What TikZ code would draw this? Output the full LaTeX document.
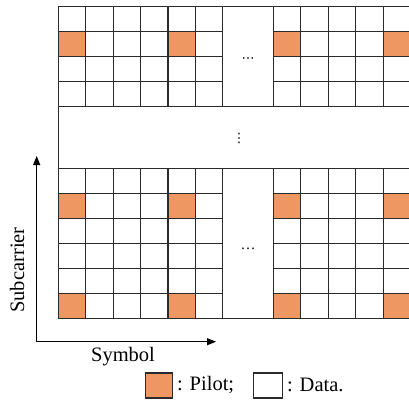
\documentclass[tikz,border=0pt]{standalone}
\usepackage{fontspec}
\setmainfont{Liberation Serif}
\newfontfamily\dejavu{DejaVu Sans}
\usetikzlibrary{arrows.meta}
\definecolor{pilot}{HTML}{EF9762}
\definecolor{gridline}{HTML}{2A2A2A}
\tikzset{
  cell/.style={draw=gridline, line width=1.2pt, fill=white},
  pilotcell/.style={draw=gridline, line width=1.2pt, fill=pilot},
  axis/.style={draw=black, line width=1pt, -{Triangle[length=9pt,width=7pt]}},
  lbl/.style={font=\fontsize{20.5}{22}\selectfont, inner sep=0pt},
}
\begin{document}
\begin{tikzpicture}[x=1pt,y=-1pt]
\useasboundingbox (0,0) rectangle (409,400);
\begin{scope}
\clip (0,0) rectangle (409,400);
% gap band between the two blocks
\draw[cell] (58.3,106.7) rectangle (440,168.3);
% top block: 4 rows
\foreach \j in {0,...,3}{
  \pgfmathsetmacro{\ya}{6.7+\j*25}
  \pgfmathsetmacro{\yb}{6.7+(\j+1)*25}
  \foreach \i in {0,...,5}{
    \pgfmathsetmacro{\xa}{58.3+\i*27.4}
    \pgfmathsetmacro{\xb}{58.3+(\i+1)*27.4}
    \def\st{cell}
    \ifnum\j=1 \ifnum\i=0 \def\st{pilotcell}\fi\ifnum\i=4 \def\st{pilotcell}\fi\fi
    \draw[\st] (\xa,\ya) rectangle (\xb,\yb);
  }
  \foreach \i in {0,...,4}{
    \pgfmathsetmacro{\xa}{273.3+\i*27.5}
    \pgfmathsetmacro{\xb}{273.3+(\i+1)*27.5}
    \def\st{cell}
    \ifnum\j=1 \ifnum\i=0 \def\st{pilotcell}\fi\ifnum\i=4 \def\st{pilotcell}\fi\fi
    \draw[\st] (\xa,\ya) rectangle (\xb,\yb);
  }
}
\draw[cell] (222.7,6.7) rectangle (273.3,106.7);
% bottom block: 6 rows
\foreach \j in {0,...,5}{
  \pgfmathsetmacro{\ya}{168.3+\j*25}
  \pgfmathsetmacro{\yb}{168.3+(\j+1)*25}
  \foreach \i in {0,...,5}{
    \pgfmathsetmacro{\xa}{58.3+\i*27.4}
    \pgfmathsetmacro{\xb}{58.3+(\i+1)*27.4}
    \def\st{cell}
    \ifnum\j=1 \ifnum\i=0 \def\st{pilotcell}\fi\ifnum\i=4 \def\st{pilotcell}\fi\fi
    \ifnum\j=5 \ifnum\i=0 \def\st{pilotcell}\fi\ifnum\i=4 \def\st{pilotcell}\fi\fi
    \draw[\st] (\xa,\ya) rectangle (\xb,\yb);
  }
  \foreach \i in {0,...,4}{
    \pgfmathsetmacro{\xa}{273.3+\i*27.5}
    \pgfmathsetmacro{\xb}{273.3+(\i+1)*27.5}
    \def\st{cell}
    \ifnum\j=1 \ifnum\i=0 \def\st{pilotcell}\fi\ifnum\i=4 \def\st{pilotcell}\fi\fi
    \ifnum\j=5 \ifnum\i=0 \def\st{pilotcell}\fi\ifnum\i=4 \def\st{pilotcell}\fi\fi
    \draw[\st] (\xa,\ya) rectangle (\xb,\yb);
  }
}
\draw[cell] (222.7,168.3) rectangle (273.3,318.3);
\end{scope}
% ellipses
\node[inner sep=0pt, font=\dejavu\fontsize{13}{13}\selectfont] (topdots) at (248,60) {⋯};
\node[inner sep=0pt, font=\fontsize{15}{15}\selectfont] (botdots) at (248,249) {\ldots};
\node[inner sep=0pt, font=\dejavu\fontsize{13}{13}\selectfont] (vdots) at (239,138.5) {⋮};
% axes
\coordinate (origin) at (36.7,341.7);
\coordinate (ytip) at (36.7,156);
\coordinate (xtip) at (216,341.7);
\draw[axis] (origin) -- (ytip);
\draw[axis] (origin) -- (xtip);
\node[lbl, rotate=90] (ylab) at (17,270) {Subcarrier};
\node[lbl] (xlab) at (123,357) {Symbol};
% legend
\draw[pilotcell] (145.3,373) rectangle (172.7,398) node[midway] (legpilot) {};
\node[lbl, anchor=west] (pilottxt) at (177,385) {: Pilot;};
\draw[cell] (253.5,373) rectangle (282.5,398) node[midway] (legdata) {};
\node[lbl, anchor=west] (datatxt) at (287,385) {: Data.};
\end{tikzpicture}
\end{document}
